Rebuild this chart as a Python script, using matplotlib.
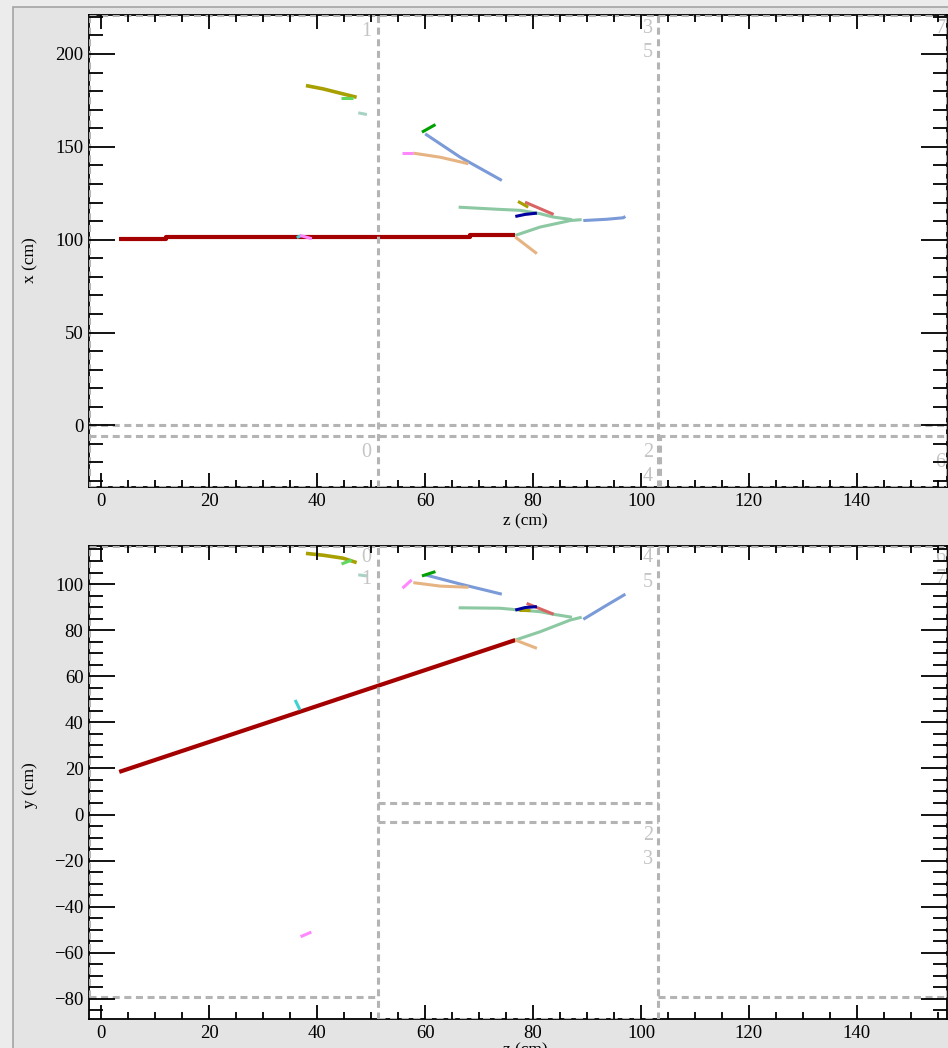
import matplotlib
matplotlib.use("Agg")
import matplotlib.pyplot as plt
from matplotlib.patches import Rectangle
from matplotlib.ticker import MultipleLocator

plt.rcParams['font.family'] = ['Liberation Serif', 'DejaVu Serif']

# axis ranges (cm)
z_lim = (-2.3, 156.7)
x_lim = (-33.2, 221.0)
y_lim = (-88.7, 116.5)

# TPC boundary lines, vertical: (z, lo, hi); horizontal: (v, z0, z1)
tpc_zx_v = [(-2.3, -33.2, 221.0), (51.3, -33.2, 221.0), (103.2, -33.2, 221.0),
            (103.6, -33.2, -5.8), (156.7, -33.2, 221.0)]
tpc_zx_h = [(221.0, -2.3, 156.7), (0.0, -2.3, 156.7), (-5.8, -2.3, 156.7),
            (-33.2, -2.3, 156.7)]
tpc_zy_v = [(-2.3, -79.1, 116.5), (51.3, -88.7, 116.5), (103.2, -88.7, 116.5),
            (156.7, -79.1, 116.5)]
tpc_zy_h = [(116.5, -2.3, 156.7), (-79.1, -2.3, 51.3), (-79.1, 103.2, 156.7),
            (5.0, 51.3, 103.2), (-3.2, 51.3, 103.2), (-88.7, 51.3, 103.2)]

# TPC number labels: (text, z, value)
labels_zx = [("1", 49.0, 212.0), ("3", 101.3, 213.6), ("5", 101.3, 200.7),
             ("7", 155.5, 213.6), ("0", 49.0, -14.4), ("2", 101.3, -14.4),
             ("4", 101.3, -27.3), ("6", 155.5, -19.8)]
labels_zy = [("0", 49.0, 111.3), ("1", 49.0, 101.8), ("4", 101.3, 111.3),
             ("5", 101.3, 100.5), ("6", 155.5, 111.3), ("7", 155.5, 102.6),
             ("2", 101.3, -9.2), ("3", 101.3, -19.6)]

# tracks, top view z vs x
red_z = [3.3, 12.0, 12.0, 68.3, 68.3, 76.7]
red_x = [100.2, 100.2, 101.2, 101.2, 102.3, 102.3]
tealA_z = [76.7, 81.3, 86.9, 89.0]
tealA_x = [102.3, 106.8, 110.3, 110.8]
blueB_z = [89.3, 93.7, 96.7, 97.1]
blueB_x = [110.3, 111.0, 111.8, 112.5]
tealC_z = [66.2, 73.9, 77.6, 81.3, 83.7, 87.2]
tealC_x = [117.5, 116.3, 115.8, 114.0, 112.2, 110.8]
salmon_z = [78.5, 83.8]
salmon_x = [120.2, 113.6]
olive_z = [77.2, 79.1]
olive_x = [120.6, 117.5]
navy_z = [76.7, 78.5, 80.7]
navy_x = [112.5, 113.6, 114.3]
tanA_z = [76.7, 80.7]
tanA_x = [101.4, 92.5]
bluelong_z = [60.0, 66.5, 74.2]
bluelong_x = [157.0, 144.4, 131.9]
dgreen_z = [59.4, 61.9]
dgreen_x = [157.9, 162.0]
tan2_z = [57.8, 62.8, 68.0]
tan2_x = [146.6, 144.4, 140.9]
pinkA_z = [55.7, 57.8]
pinkA_x = [146.6, 146.6]
olivelong_z = [37.9, 41.1, 44.8, 47.3]
olivelong_x = [183.0, 181.2, 178.5, 176.7]
lgreen_z = [44.4, 46.7]
lgreen_x = [176.1, 176.1]
paleteal_z = [47.6, 49.2]
paleteal_x = [168.3, 167.4]
cyan_z = [36.2, 37.1]
cyan_x = [101.1, 102.3]
pinkB_z = [36.8, 39.0]
pinkB_x = [102.3, 100.5]

# tracks, side view z vs y
red_zy = [3.3, 76.7]
red_y = [18.5, 75.7]
tealA_y = [75.7, 79.3, 84.4, 85.6]
blueB_zy = [89.3, 93.7, 97.1]
blueB_y = [84.7, 90.9, 95.6]
tealC_y = [89.7, 89.5, 88.7, 88.0, 86.9, 85.6]
salmon_zy = [78.8, 83.8]
salmon_y = [91.6, 86.9]
olive_zy = [77.3, 79.4]
olive_y = [88.7, 88.7]
navy_zy = [76.7, 78.5, 80.7]
navy_y = [88.7, 89.8, 90.2]
tanA_y = [75.7, 72.1]
bluelong_y = [104.0, 100.0, 95.6]
dgreen_y = [103.5, 105.4]
tan2_y = [100.6, 99.1, 98.6]
pinkA_zy = [55.8, 57.5]
pinkA_y = [98.2, 101.8]
olivelong_y = [113.3, 112.5, 111.2, 109.3]
lgreen_zy = [44.5, 46.4]
lgreen_y = [108.7, 110.4]
paleteal_y = [104.0, 103.5]
cyan_zy = [35.9, 36.8]
cyan_y = [49.7, 45.4]
pinkB_zy = [36.9, 38.9]
pinkB_y = [-53.0, -51.0]

c_red = '#a40000'
c_teal = '#8cc8a2'
c_blue = '#7a9ad8'
c_tan = '#e6b482'
c_salmon = '#d86464'
c_olive = '#a8a000'
c_navy = '#0000a0'
c_dgreen = '#00a000'
c_lgreen = '#60d860'
c_pink = '#ff88ff'
c_cyan = '#40d0d0'
c_paleteal = '#a8d2c2'
c_tpc = '#b4b4b4'

fig = plt.figure(figsize=(9.48, 10.48), dpi=100)
fig.patch.set_facecolor('#ececec')
fig.add_artist(Rectangle((13 / 948, -0.05), 1.0, 1 - 7 / 1048 + 0.05,
                         transform=fig.transFigure, facecolor='#e4e4e4',
                         edgecolor='#a4a4a4', lw=1.2, zorder=0))

ax1 = fig.add_axes([89 / 948, 1 - 487 / 1048, 858 / 948, 472 / 1048])
ax2 = fig.add_axes([89 / 948, 1 - 1019 / 1048, 858 / 948, 473 / 1048])


def draw(ax, z, v, color, lw=2.2):
    ax.plot(z, v, color=color, lw=lw, solid_capstyle='butt', zorder=2)


def style(ax, ylim, ymaj, ymin):
    ax.set_xlim(*z_lim)
    ax.set_ylim(*ylim)
    ax.set_facecolor('white')
    ax.xaxis.set_major_locator(MultipleLocator(20))
    ax.xaxis.set_minor_locator(MultipleLocator(5))
    ax.yaxis.set_major_locator(MultipleLocator(ymaj))
    ax.yaxis.set_minor_locator(MultipleLocator(ymin))
    ax.tick_params(which='both', direction='in', top=True, right=True,
                   width=1.3, labelsize=13.5, pad=4)
    ax.tick_params(axis='x', which='major', length=10)
    ax.tick_params(axis='x', which='minor', length=5)
    ax.tick_params(axis='y', which='major', length=18.5)
    ax.tick_params(axis='y', which='minor', length=10)
    for s in ax.spines.values():
        s.set_linewidth(1.3)
        s.set_zorder(2.5)
    ax.xaxis.set_zorder(4)
    ax.yaxis.set_zorder(4)


def boxes(ax, vlines, hlines, labels):
    ls = (0, (2.3, 1.5))
    for z, lo, hi in vlines:
        ax.plot([z, z], [lo, hi], color=c_tpc, lw=2.2, linestyle=ls, zorder=3)
    for v, z0, z1 in hlines:
        ax.plot([z0, z1], [v, v], color=c_tpc, lw=2.2, linestyle=ls, zorder=3)
    for t, z, v in labels:
        ax.text(z, v, t, color='#c4c4c4', fontsize=14.5, ha='center',
                va='center', zorder=3, clip_on=True)


# top view
style(ax1, x_lim, 50, 10)
draw(ax1, red_z, red_x, c_red, 3.0)
draw(ax1, tealA_z, tealA_x, c_teal)
draw(ax1, blueB_z, blueB_x, c_blue)
draw(ax1, tealC_z, tealC_x, c_teal)
draw(ax1, salmon_z, salmon_x, c_salmon)
draw(ax1, olive_z, olive_x, c_olive)
draw(ax1, navy_z, navy_x, c_navy)
draw(ax1, tanA_z, tanA_x, c_tan)
draw(ax1, bluelong_z, bluelong_x, c_blue)
draw(ax1, dgreen_z, dgreen_x, c_dgreen)
draw(ax1, tan2_z, tan2_x, c_tan)
draw(ax1, pinkA_z, pinkA_x, c_pink)
draw(ax1, olivelong_z, olivelong_x, c_olive, 2.6)
draw(ax1, lgreen_z, lgreen_x, c_lgreen)
draw(ax1, paleteal_z, paleteal_x, c_paleteal)
draw(ax1, cyan_z, cyan_x, c_cyan)
draw(ax1, pinkB_z, pinkB_x, c_pink)
boxes(ax1, tpc_zx_v, tpc_zx_h, labels_zx)

# side view
style(ax2, y_lim, 20, 5)
draw(ax2, red_zy, red_y, c_red, 3.0)
draw(ax2, tealA_z, tealA_y, c_teal)
draw(ax2, blueB_zy, blueB_y, c_blue)
draw(ax2, tealC_z, tealC_y, c_teal)
draw(ax2, salmon_zy, salmon_y, c_salmon)
draw(ax2, olive_zy, olive_y, c_olive)
draw(ax2, navy_zy, navy_y, c_navy)
draw(ax2, tanA_z, tanA_y, c_tan)
draw(ax2, bluelong_z, bluelong_y, c_blue)
draw(ax2, dgreen_z, dgreen_y, c_dgreen)
draw(ax2, tan2_z, tan2_y, c_tan)
draw(ax2, pinkA_zy, pinkA_y, c_pink)
draw(ax2, olivelong_z, olivelong_y, c_olive, 2.6)
draw(ax2, lgreen_zy, lgreen_y, c_lgreen)
draw(ax2, paleteal_z, paleteal_y, c_paleteal)
draw(ax2, cyan_zy, cyan_y, c_cyan)
draw(ax2, pinkB_zy, pinkB_y, c_pink)
boxes(ax2, tpc_zy_v, tpc_zy_h, labels_zy)

fig.text(525 / 948, 1 - 521 / 1048, "z (cm)", fontsize=12.5, ha='center', va='center')
fig.text(525 / 948, 1 - 1050 / 1048, "z (cm)", fontsize=12.5, ha='center', va='center')
fig.text(30 / 948, 1 - 260 / 1048, "x (cm)", fontsize=12.5, ha='center', va='center', rotation=90)
fig.text(30 / 948, 1 - 785 / 1048, "y (cm)", fontsize=12.5, ha='center', va='center', rotation=90)

fig.savefig('out.png', dpi=100, facecolor=fig.get_facecolor())
